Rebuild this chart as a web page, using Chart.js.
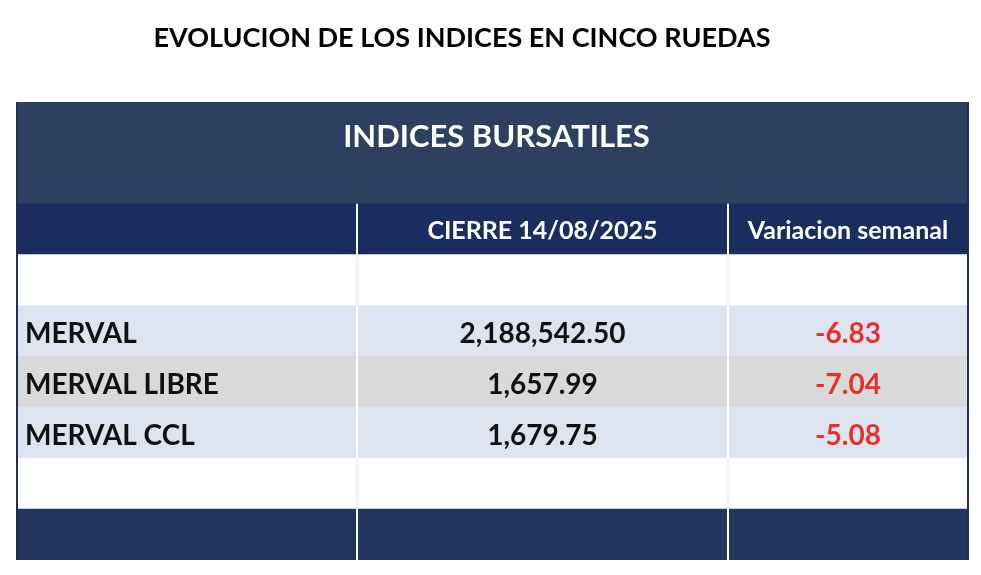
<!DOCTYPE html>
<html><head><meta charset="utf-8">
<script src="https://cdn.jsdelivr.net/npm/chart.js@4.4.1/dist/chart.umd.min.js"></script>
<style>html,body{margin:0;padding:0;background:#fff}#w{width:981px;height:575px}</style>
</head><body><div id="w"><canvas id="c"></canvas></div>
<script>
const rowKeys = ['h1','h2','sub','b1','MERVAL','MERVAL LIBRE','MERVAL CCL','b2','foot'];
const indices = ['MERVAL','MERVAL LIBRE','MERVAL CCL'];
const cierre = ['2,188,542.50','1,657.99','1,679.75'];
const variacion = ['-6.83','-7.04','-5.08'];
const colHeaders = ['', 'CIERRE 14/08/2025', 'Variacion semanal'];
const colWidths = [340, 371, 240];
const rowColors = ['#2d405f','#2d405f','#1b2c5f','#ffffff','#dde4ef','#d9d9d9','#dde4ef','#ffffff','#22355c'];
const title = 'EVOLUCION DE LOS INDICES EN CINCO RUEDAS';
const banner = 'INDICES BURSATILES';

const datasets = colWidths.map(w => ({data: rowKeys.map(()=>w), backgroundColor: rowColors, borderWidth:0, barPercentage:1, categoryPercentage:1}));

const tablePlugin = {
  id:'tbl',
  afterDatasetsDraw(chart){
    const ctx = chart.ctx, y = chart.scales.y, x = chart.scales.x;
    const m0 = chart.getDatasetMeta(0).data, m1 = chart.getDatasetMeta(1).data, m2 = chart.getDatasetMeta(2).data;
    const left = x.getPixelForValue(0), right = x.getPixelForValue(951);
    const c1 = x.getPixelForValue(colWidths[0]), c2 = x.getPixelForValue(colWidths[0]+colWidths[1]);
    const half = (i)=> m0[i].height/2;
    ctx.save();
    ctx.strokeStyle='#ffffff'; ctx.lineWidth=2;
    const top = m0[2].y - half(2), bot = m0[8].y + half(8);
    [c1,c2].forEach(cx=>{ctx.beginPath();ctx.moveTo(cx,top);ctx.lineTo(cx,bot);ctx.stroke();});
    ctx.strokeStyle='#e3e3e3'; ctx.lineWidth=1;
    [3,7].forEach(i=>{[c1,c2].forEach(cx=>{ctx.beginPath();ctx.moveTo(cx,m0[i].y-half(i));ctx.lineTo(cx,m0[i].y+half(i));ctx.stroke();});});
    ctx.strokeStyle='#1f2f55'; ctx.lineWidth=2;
    const tt = m0[0].y-half(0);
    ctx.beginPath();ctx.moveTo(left,tt);ctx.lineTo(left,bot);ctx.moveTo(right,tt);ctx.lineTo(right,bot);ctx.stroke();
    ctx.fillStyle='#000'; ctx.textAlign='center'; ctx.textBaseline='middle';
    ctx.font='bold 27px Lato, "Open Sans", sans-serif';
    ctx.fillText(title, 462, 38);
    ctx.fillStyle='#ffffff'; ctx.font='bold 31px "Liberation Sans Narrow", Lato, sans-serif';
    ctx.fillText(banner, (left+right)/2 + 4, (m0[0].y+m0[1].y)/2 - 16);
    ctx.font='bold 25px "Liberation Sans Narrow", Lato, sans-serif';
    ctx.fillText(colHeaders[1], m1[2].x - m1[2].width/2, m1[2].y+2);
    ctx.fillText(colHeaders[2], m2[2].x - m2[2].width/2, m2[2].y+2);
    indices.forEach((name,k)=>{
      const i = 4+k, yy = m0[i].y+3;
      ctx.fillStyle='#111'; ctx.textAlign='left';
      ctx.font='bold 28px Lato, "Open Sans", sans-serif';
      ctx.fillText(name, left+8, yy);
      ctx.textAlign='center';
      ctx.fillText(cierre[k], m1[i].x - m1[i].width/2, yy);
      ctx.fillStyle='#e8302a';
      ctx.fillText(variacion[k], m2[i].x - m2[i].width/2, yy);
    });
    ctx.restore();
  }
};
new Chart(document.getElementById('c'), {
  type:'bar',
  data:{labels: rowKeys, datasets},
  options:{
    indexAxis:'y', responsive:true, maintainAspectRatio:false, animation:false,
    layout:{padding:{left:17,right:13,top:102,bottom:15}},
    plugins:{legend:{display:false}, tooltip:{enabled:false}},
    scales:{x:{stacked:true,display:false,min:0,max:951}, y:{stacked:true,display:false}}
  },
  plugins:[tablePlugin]
});
</script></body></html>
